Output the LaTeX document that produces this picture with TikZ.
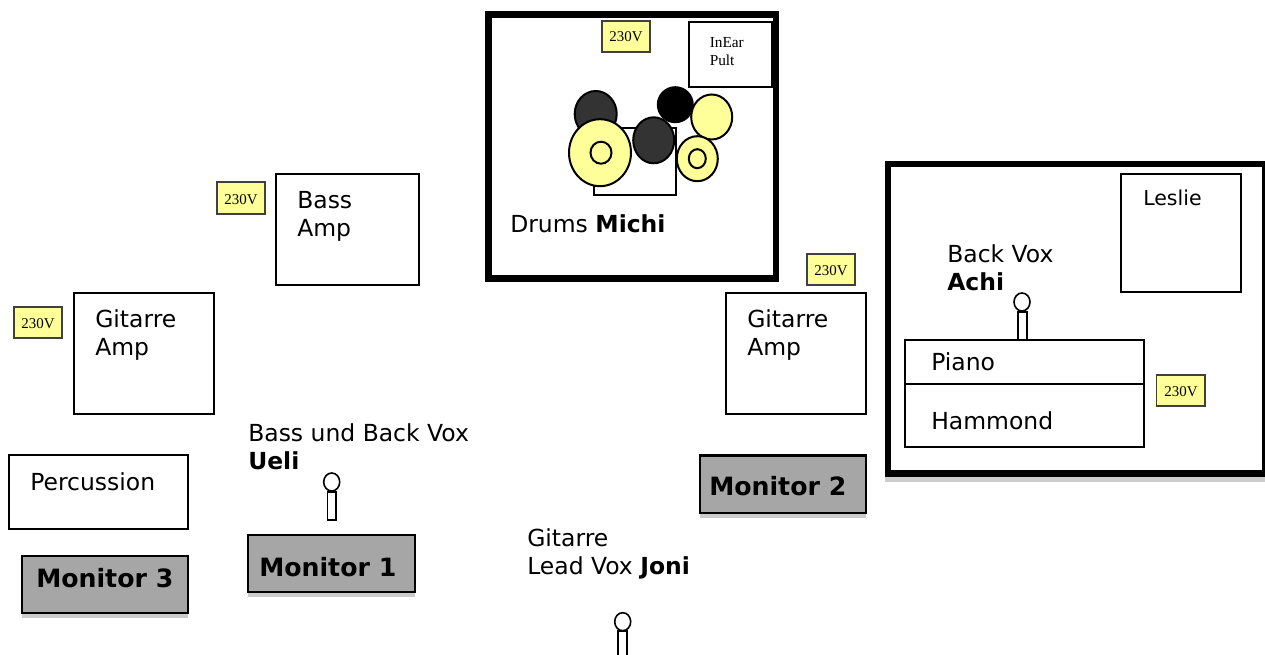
\documentclass[tikz,border=0pt]{standalone}
\usepackage{fontspec}
\setmainfont{DejaVu Sans}
\newfontfamily\serifface{Liberation Serif}
\definecolor{padyellow}{HTML}{FFFF99}
\definecolor{drumdark}{HTML}{333333}
\definecolor{monitorgrey}{HTML}{A6A6A6}
\tikzset{
  thinline/.style={draw=black,line width=1.5pt},
  boxline/.style={draw=black,line width=1.3pt,fill=white},
  frameline/.style={draw=black,line width=4.9pt,fill=white},
  outlet/.style={draw=black!75,line width=1pt,fill=padyellow},
  outlettext/.style={anchor=center,inner sep=0pt,font=\serifface\fontsize{11.2}{13}\selectfont},
  label/.style={anchor=base west,inner sep=0pt,font=\fontsize{17.6}{21.6}\selectfont},
  monitorbox/.style={draw=black,line width=1.9pt,fill=monitorgrey},
  monitortext/.style={anchor=base west,inner sep=0pt,font=\bfseries\fontsize{18.9}{23}\selectfont},
  cymbal/.style={draw=black,line width=1.5pt,fill=padyellow},
  tom/.style={draw=black,line width=1.5pt,fill=drumdark},
  mic/.style={draw=black,line width=1.2pt,fill=white},
}
\begin{document}
\begin{tikzpicture}[x=0.75pt,y=-0.75pt]
\useasboundingbox (0,0) rectangle (1265,655);
\clip (0,0) rectangle (1265,655);
\fill[white] (0,0) rectangle (1265,655);

% drum riser
\draw[frameline] (488.5,14.5) rectangle (776,278.5);
\draw[outlet] (602,21) rectangle (650,52);
\node[outlettext] (vdrums) at (626,37) {230V};
\draw[boxline] (689,22) rectangle (772,87);
\node[anchor=base west,inner sep=0pt,font=\serifface\fontsize{11.5}{14.2}\selectfont,align=left] (inear) at (709.5,66) {InEar\\Pult};
\draw[thinline] (593.7,127.7) rectangle (675.7,195);
\draw[tom] (595.7,114) ellipse [x radius=21,y radius=23];
\draw[cymbal] (600,152.7) ellipse [x radius=31,y radius=33.5];
\draw[cymbal] (601,152.7) ellipse [x radius=10.5,y radius=11];
\draw[tom] (653.7,140.3) ellipse [x radius=20.5,y radius=23];
\fill[black] (675.3,104.7) circle [radius=18.5];
\draw[cymbal] (711.7,117) ellipse [x radius=20.5,y radius=22.5];
\draw[cymbal] (697.3,158.7) ellipse [x radius=20.5,y radius=22.5];
\draw[cymbal] (697.3,158.7) ellipse [x radius=8.5,y radius=9.5];
\node[label] (drums) at (510,233) {Drums \textbf{Michi}};

% bass amp
\draw[boxline] (276,174) rectangle (419,285);
\node[label,align=left] (bassamp) at (297,237) {Bass\\Amp};
\draw[outlet] (217,182) rectangle (265,214);
\node[outlettext] (vbass) at (241,199.5) {230V};

% left guitar amp
\draw[boxline] (74,293) rectangle (214,414);
\node[label,align=left] (gitleft) at (95,356) {Gitarre\\Amp};
\draw[outlet] (14,307) rectangle (62,338);
\node[outlettext] (vleft) at (38,323.5) {230V};

% right guitar amp
\draw[boxline] (726,293) rectangle (866,414);
\node[label,align=left] (gitright) at (747,356) {Gitarre\\Amp};
\draw[outlet] (807,254) rectangle (855,285);
\node[outlettext] (vright) at (831,270.5) {230V};

% keyboard riser
\fill[black!20] (885,477) rectangle (1265,482);
\draw[frameline] (888,164) rectangle (1265,473.5);
\draw[boxline] (1121,174) rectangle (1241,292);
\node[label,font=\fontsize{15.4}{19}\selectfont] (leslie) at (1143,206) {Leslie};
\node[label,align=left] (achi) at (947,291) {Back Vox\\\textbf{Achi}};
\draw[mic] (1018,312) rectangle (1026.7,340);
\draw[mic] (1022,302) ellipse [x radius=8,y radius=9];
\draw[boxline] (905,340) rectangle (1144.3,384);
\node[label] (piano) at (931,371) {Piano};
\draw[boxline] (905,384) rectangle (1144,447);
\node[label] (hammond) at (931,430) {Hammond};
\draw[outlet] (1156.7,375) rectangle (1205,406);
\node[outlettext] (vkeys) at (1181,392) {230V};

% percussion
\draw[boxline] (9,455) rectangle (188,529);
\node[label] (perc) at (30,491) {Percussion};

% monitors
\fill[black!20] (22,560) rectangle (188,618);
\draw[monitorbox] (22,556) rectangle (188,613);
\node[monitortext] (mthree) at (36,588) {Monitor 3};
\fill[black!20] (248,540) rectangle (415,597);
\draw[monitorbox] (248,535) rectangle (415,592);
\node[monitortext] (mone) at (259,577) {Monitor 1};
\fill[black!20] (700,460) rectangle (866,518);
\draw[monitorbox] (700,455.5) rectangle (866,513);
\node[monitortext] (mtwo) at (709,496) {Monitor 2};

% Ueli
\node[label,align=left] (ueli) at (248,470) {Bass und Back Vox\\\textbf{Ueli}};
\draw[mic] (327.5,492) rectangle (336,520);
\draw[mic] (331.7,482) ellipse [x radius=8,y radius=9];

% Joni
\node[label,align=left] (joni) at (527,575) {Gitarre\\Lead Vox \textbf{Joni}};
\draw[mic] (618,631) rectangle (627,670);
\draw[mic] (622.7,621.7) ellipse [x radius=8,y radius=9];
\end{tikzpicture}
\end{document}
